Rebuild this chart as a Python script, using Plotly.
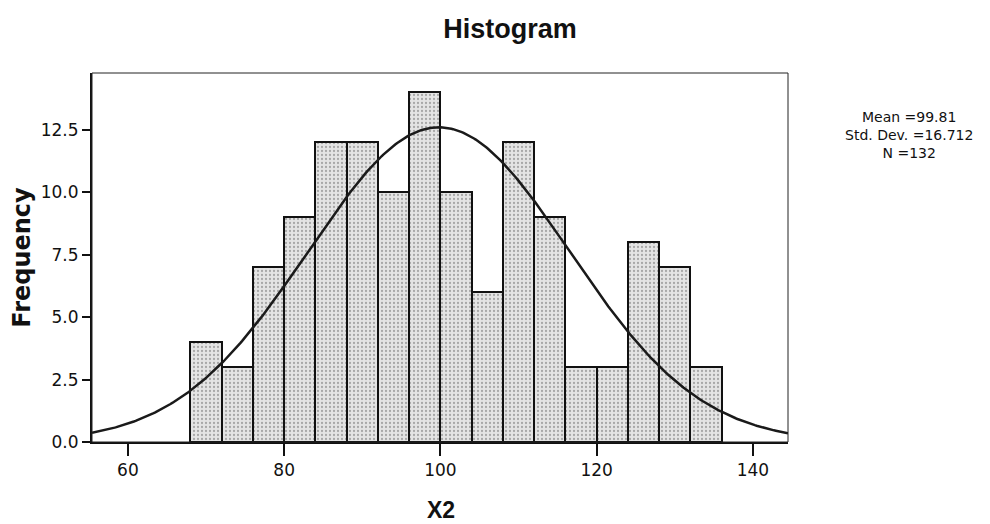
import numpy as np
import plotly.graph_objects as go

# ---- data ----
bin_edges = [68, 72, 76, 80, 84, 88, 92, 96, 100, 104, 108, 112, 116, 120, 124, 128, 132, 136]
counts = [4, 3, 7, 9, 12, 12, 10, 14, 10, 6, 12, 9, 3, 3, 8, 7, 3]
x_ticks = [60, 80, 100, 120, 140]
y_ticks = [0.0, 2.5, 5.0, 7.5, 10.0, 12.5]
mean_val = 99.81
std_val = 16.712
n_val = 132

bin_width = bin_edges[1] - bin_edges[0]
centers = [(a + b) / 2 for a, b in zip(bin_edges[:-1], bin_edges[1:])]

x_range = [55.4, 144.5]
y_range = [0, 14.78]

# normal curve from the reported statistics
xc = np.linspace(x_range[0], x_range[1], 400)
yc = n_val * bin_width * np.exp(-0.5 * ((xc - mean_val) / std_val) ** 2) / (std_val * np.sqrt(2 * np.pi))

# page body has an 8px margin, so the figure is sized to fit the window
W, H = 982, 516
L, T, PW, PH = 84, 65, 696, 369

fig = go.Figure()
fig.add_trace(go.Bar(
    x=centers, y=counts, width=bin_width,
    marker=dict(
        color="#dcdcdc",
        line=dict(color="#111111", width=2),
        pattern=dict(shape=".", fgcolor="#6a6a6a", bgcolor="#e4e4e4", size=4, solidity=0.25),
    ),
    showlegend=False, hoverinfo="x+y",
))
fig.add_trace(go.Scatter(
    x=xc, y=yc, mode="lines",
    line=dict(color="#1a1a1a", width=2.5),
    showlegend=False, hoverinfo="skip",
))

tick_font = dict(family="DejaVu Sans", size=17, color="#111111")

fig.update_layout(
    width=W, height=H,
    margin=dict(l=L, r=W - L - PW, t=T, b=H - T - PH, autoexpand=False),
    paper_bgcolor="white", plot_bgcolor="white",
    bargap=0,
    title=dict(
        text="<b>Histogram</b>",
        font=dict(family="Liberation Sans", size=27, color="#111111"),
        x=502 / W, xanchor="center", xref="container",
        y=1 - 21 / H, yanchor="middle", yref="container",
        automargin=False,
    ),
    xaxis=dict(
        range=x_range, tickvals=x_ticks, ticktext=[str(v) for v in x_ticks],
        showline=True, linecolor="#111111", linewidth=2,
        ticks="outside", ticklen=12, tickwidth=2, tickcolor="#111111",
        tickfont=tick_font, showgrid=False, zeroline=False, automargin=False,
    ),
    yaxis=dict(
        range=y_range, tickvals=y_ticks, ticktext=[f"{v:.1f}" for v in y_ticks],
        showline=True, linecolor="#111111", linewidth=2,
        ticks="outside", ticklen=8, tickwidth=2, tickcolor="#111111",
        tickfont=tick_font, showgrid=False, zeroline=False, automargin=False,
        title=dict(text="<b>Frequency</b>", font=dict(family="DejaVu Sans", size=24, color="#111111"), standoff=12),
    ),
)

# x-axis title placed as an annotation so it sits low like the reference
fig.add_annotation(
    text="<b>X2</b>", xref="paper", yref="paper",
    x=(433 - L) / PW, y=-(502 - (T + PH)) / PH,
    xanchor="center", yanchor="middle", showarrow=False,
    font=dict(family="Liberation Sans", size=23, color="#111111"),
)

# thin frame around plot area
fig.add_shape(type="rect", xref="paper", yref="paper", x0=0, y0=0, x1=1, y1=1,
              line=dict(color="#222222", width=1), layer="above")

stats_text = "<br>".join([f"Mean ={mean_val:.2f}", f"Std. Dev. ={std_val:.3f}", f"N ={n_val}"])
fig.add_annotation(
    text=stats_text, xref="paper", yref="paper",
    x=(901 - L) / PW, y=(T + PH - 127) / PH,
    xanchor="center", yanchor="middle", align="center", showarrow=False,
    font=dict(family="DejaVu Sans", size=14, color="#111111"),
)

fig.write_html("out.html")
